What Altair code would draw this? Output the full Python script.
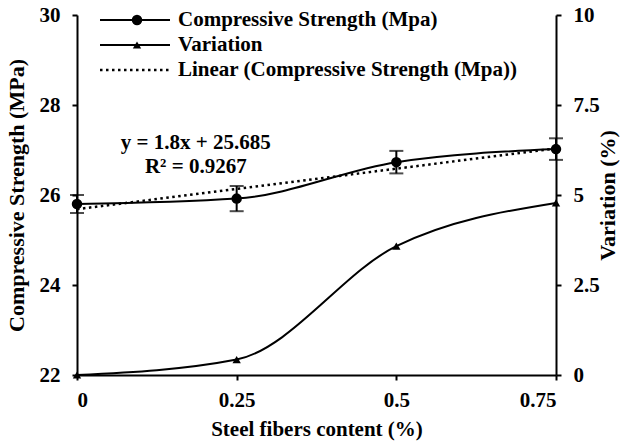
import altair as alt
import pandas as pd

# ---- data ----
fiber = [0, 0.25, 0.5, 0.75]
strength = [25.80, 25.92, 26.73, 27.02]
strength_err = [0.20, 0.28, 0.25, 0.24]
variation = [0.0, 0.43, 3.58, 4.78]
trend_x = [0, 0.75]
trend_y = [25.685, 27.035]
eq_labels = ["y = 1.8x + 25.685", "R² = 0.9267"]
eq_x = [0.186, 0.186]
eq_y = [27.16, 26.62]
legend_labels = ["Compressive Strength (Mpa)", "Variation", "Linear (Compressive Strength (Mpa))"]

FONT = "Liberation Serif"
FS = 21

df = pd.DataFrame({
    "x": fiber,
    "cs": strength,
    "lo": [s - e for s, e in zip(strength, strength_err)],
    "hi": [s + e for s, e in zip(strength, strength_err)],
    "var": variation,
})
trend = pd.DataFrame({"x": trend_x, "y": trend_y})
eq = pd.DataFrame({"x": eq_x, "y": eq_y, "t": eq_labels})

xscale = alt.Scale(domain=[0, 0.75], nice=False, zero=False)
xaxis = alt.Axis(values=fiber, labelExpr="datum.value", title="Steel fibers content (%)",
                 grid=False, tickSize=5, labelPadding=9, titlePadding=8)
yl_scale = alt.Scale(domain=[22, 30], nice=False, zero=False)
yl_axis = alt.Axis(values=[22, 24, 26, 28, 30], title="Compressive Strength (MPa)", grid=False,
                   tickSize=5, labelPadding=12, titlePadding=11, titleFontSize=22)
yr_scale = alt.Scale(domain=[0, 10], nice=False, zero=False)
yr_axis = alt.Axis(values=[0, 2.5, 5, 7.5, 10], labelExpr="datum.value", title="Variation (%)",
                   orient="right", grid=False, tickSize=5, labelPadding=12, titlePadding=20,
                   titleAngle=270, titleFontSize=22)

base = alt.Chart(df)
X = alt.X("x:Q", scale=xscale, axis=xaxis)

def YL(f):
    return alt.Y(f, scale=yl_scale, axis=yl_axis)

def YR(f):
    return alt.Y(f, scale=yr_scale, axis=yr_axis)

cs_line = base.mark_line(color="black", strokeWidth=2, interpolate="monotone").encode(x=X, y=YL("cs:Q"))
cs_pts = base.mark_point(filled=True, color="black", size=110, opacity=1, shape="circle").encode(
    x=X, y=YL("cs:Q"))
err_rule = base.mark_rule(color="black", strokeWidth=2).encode(x=X, y=YL("lo:Q"), y2="hi:Q")
err_lo = base.mark_tick(color="black", thickness=2, size=14, orient="horizontal").encode(x=X, y=YL("lo:Q"))
err_hi = base.mark_tick(color="black", thickness=2, size=14, orient="horizontal").encode(x=X, y=YL("hi:Q"))
trend_line = alt.Chart(trend).mark_line(color="black", strokeWidth=2.5, strokeDash=[2.5, 3.5]).encode(
    x=X, y=YL("y:Q"))
eq_text = alt.Chart(eq).mark_text(font=FONT, fontWeight="bold", fontSize=FS, color="black").encode(
    x=X, y=YL("y:Q"), text="t:N")

# legend (drawn manually)
leg_y = [5, 30, 55]
leg = []
for i, lab in enumerate(legend_labels):
    c = alt.Chart(pd.DataFrame({"t": [lab]}))
    if i < 2:
        leg.append(c.mark_rule(color="black", strokeWidth=2).encode(
            x=alt.value(23), x2=alt.value(93), y=alt.value(leg_y[i])))
    else:
        leg.append(c.mark_rule(color="black", strokeWidth=2.5, strokeDash=[2.5, 3.5]).encode(
            x=alt.value(23), x2=alt.value(93), y=alt.value(leg_y[i])))
    if i == 0:
        leg.append(c.mark_point(filled=True, color="black", size=110, opacity=1, shape="circle").encode(
            x=alt.value(60), y=alt.value(leg_y[i])))
    if i == 1:
        leg.append(c.mark_point(filled=True, color="black", size=70, opacity=1, shape="triangle-up").encode(
            x=alt.value(60), y=alt.value(leg_y[i])))
    leg.append(c.mark_text(font=FONT, fontWeight="bold", fontSize=FS, color="black", align="left").encode(
        x=alt.value(101), y=alt.value(leg_y[i]), text="t:N"))

left = alt.layer(cs_line, trend_line, err_rule, err_lo, err_hi, cs_pts, eq_text)

var_line = base.mark_line(color="black", strokeWidth=2, interpolate="monotone").encode(x=X, y=YR("var:Q"))
var_pts = base.mark_point(filled=True, color="black", size=70, opacity=1, shape="triangle-up").encode(
    x=X, y=YR("var:Q"))
right = alt.layer(var_line, var_pts)

chart = alt.layer(left, right, *leg).resolve_scale(y="independent").properties(
    width=479, height=360,
    autosize=alt.AutoSizeParams(type="none"),
    padding={"left": 77, "top": 15, "right": 66, "bottom": 69},
).configure_view(stroke=None).configure_axis(
    labelFont=FONT, titleFont=FONT, labelFontWeight="bold", titleFontWeight="bold",
    labelFontSize=FS, titleFontSize=FS, labelColor="black", titleColor="black",
    domainColor="black", tickColor="black", domainWidth=2, tickWidth=2,
)

chart.save("out.html", embed_options={"renderer": "svg", "actions": False})
